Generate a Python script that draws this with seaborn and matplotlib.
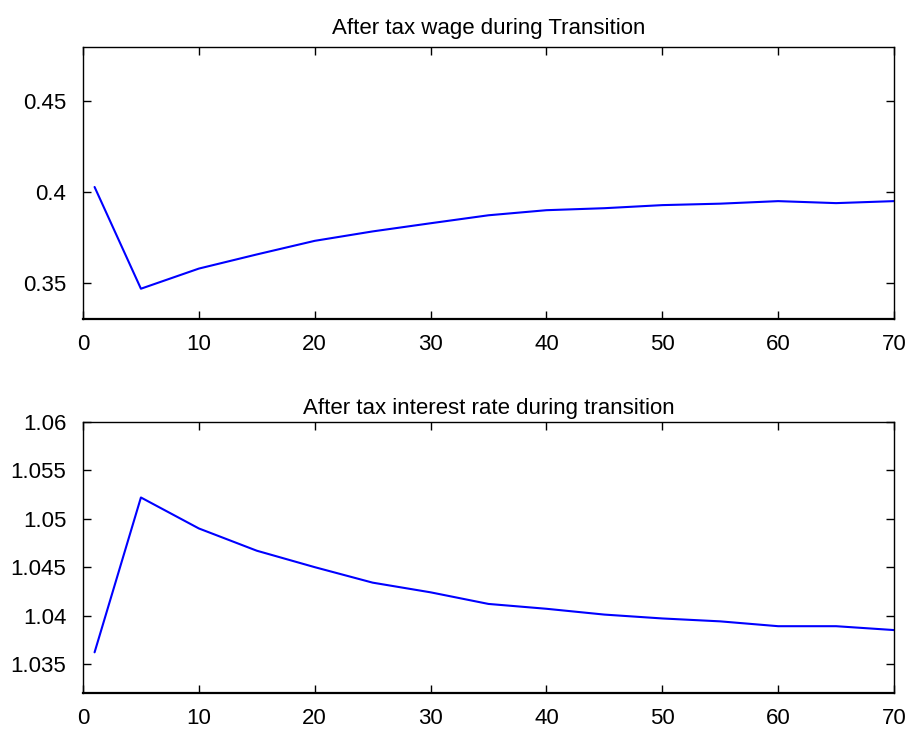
import matplotlib
matplotlib.use("Agg")
import matplotlib.pyplot as plt
import seaborn as sns
import pandas as pd

periods = [1, 5, 10, 15, 20, 25, 30, 35, 40, 45, 50, 55, 60, 65, 70]
wage = [0.4028, 0.3467, 0.3578, 0.3656, 0.3731, 0.3783, 0.3828, 0.3872,
        0.3900, 0.3911, 0.3928, 0.3936, 0.3950, 0.3939, 0.3950]
interest = [1.0362, 1.0522, 1.0490, 1.0467, 1.0450, 1.0434, 1.0424, 1.0412,
            1.0407, 1.0401, 1.0397, 1.0394, 1.0389, 1.0389, 1.0385]

titles = ["After tax wage during Transition", "After tax interest rate during transition"]
wage_ticks = [0.35, 0.4, 0.45]
wage_labels = ["0.35", "0.4", "0.45"]
int_ticks = [1.035, 1.04, 1.045, 1.05, 1.055, 1.06]
int_labels = ["1.035", "1.04", "1.045", "1.05", "1.055", "1.06"]
x_ticks = [0, 10, 20, 30, 40, 50, 60, 70]

sns.set_style("ticks")
plt.rcParams["font.family"] = ["Liberation Sans", "DejaVu Sans"]

fig = plt.figure(figsize=(9.08, 7.33), dpi=100)
ax1 = fig.add_axes([0.0914, 0.5648, 0.8932, 0.3711])
ax2 = fig.add_axes([0.0914, 0.0546, 0.8932, 0.3697])

df1 = pd.DataFrame({"t": periods, "v": wage})
df2 = pd.DataFrame({"t": periods, "v": interest})

sns.lineplot(data=df1, x="t", y="v", ax=ax1, color="#0000ff", linewidth=1.5)
sns.lineplot(data=df2, x="t", y="v", ax=ax2, color="#0000ff", linewidth=1.5)

for ax, title, yt, yl, ylim, tpad in [
    (ax1, titles[0], wage_ticks, wage_labels, (0.33, 0.48), 9),
    (ax2, titles[1], int_ticks, int_labels, (1.032, 1.06), 5.5),
]:
    ax.set_xlim(0, 70)
    ax.set_ylim(*ylim)
    ax.set_xticks(x_ticks)
    ax.set_xticklabels([str(v) for v in x_ticks])
    ax.set_yticks(yt)
    ax.set_yticklabels(yl)
    ax.set_xlabel("")
    ax.set_ylabel("")
    ax.set_title(title, fontsize=16, pad=tpad, color="black")
    ax.tick_params(direction="in", top=True, right=True, length=6, width=1,
                   labelsize=16, colors="black")
    ax.tick_params(axis="y", pad=12)
    ax.tick_params(axis="x", pad=11)
    for s in ax.spines.values():
        s.set_visible(True)
        s.set_linewidth(1.0)
        s.set_color("black")
    ax.spines["bottom"].set_linewidth(1.6)

fig.savefig("out.png", dpi=100)
